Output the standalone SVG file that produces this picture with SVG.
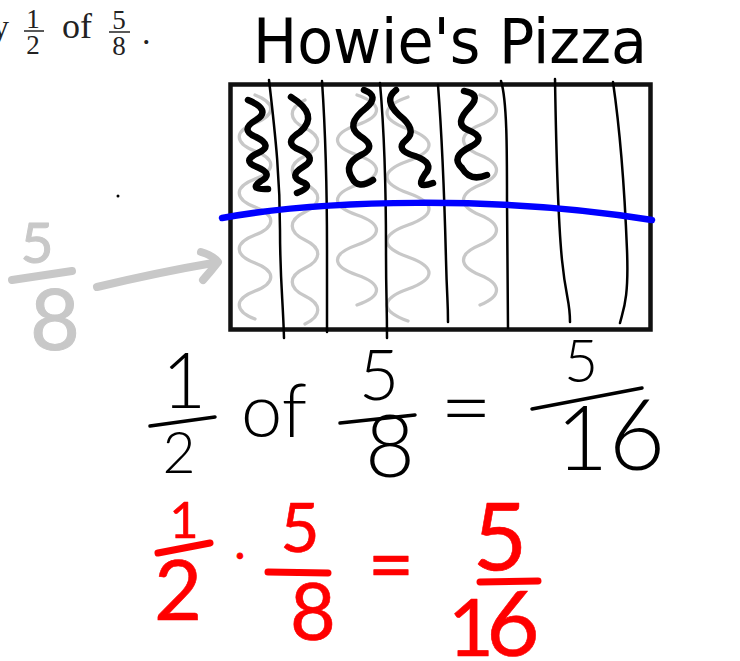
<svg xmlns="http://www.w3.org/2000/svg" width="740" height="661" viewBox="0 0 740 661">
<style>
.serif{font-family:"Liberation Serif","Times New Roman",serif;fill:#222}
.title{font-family:"DejaVu Sans","Liberation Sans",sans-serif;font-size:62px;fill:#000}
.hb{font-family:Lato,"Liberation Sans",sans-serif;font-weight:300;fill:#000;text-anchor:middle}
.hr{font-family:Lato,"Liberation Sans",sans-serif;font-weight:400;fill:#f00;stroke:#f00;stroke-width:0.6;stroke-linejoin:round;text-anchor:middle}
.hg{font-family:Lato,"Liberation Sans",sans-serif;font-weight:400;fill:#c8c8c8;stroke:#c8c8c8;stroke-width:1;stroke-linejoin:round;text-anchor:middle}
.gw{fill:none;stroke:#c8c8c8;stroke-width:3.3;stroke-linecap:round}
.bw{fill:none;stroke:#000;stroke-width:6.5;stroke-linecap:round;stroke-linejoin:round}
.vl{fill:none;stroke:#000;stroke-width:2.5;stroke-linecap:round}
.barb{stroke:#000;stroke-width:3.5;stroke-linecap:round;fill:none}
.barr{stroke:#f00;stroke-width:7;stroke-linecap:round;fill:none}
.barg{stroke:#c8c8c8;stroke-width:8;stroke-linecap:round;stroke-linejoin:round;fill:none}
</style>
<rect width="740" height="661" fill="#fff"/>

<g id="problem-text">
<text class="serif" x="-8" y="38" font-size="34">y</text>
<text class="serif" x="33" y="28" font-size="27" text-anchor="middle">1</text>
<line x1="24" y1="31" x2="44" y2="31" stroke="#222" stroke-width="1.5"/>
<text class="serif" x="33" y="54" font-size="27" text-anchor="middle">2</text>
<text class="serif" x="62" y="38" font-size="36">of</text>
<text class="serif" x="119" y="29" font-size="27" text-anchor="middle">5</text>
<line x1="109" y1="32" x2="130" y2="32" stroke="#222" stroke-width="1.5"/>
<text class="serif" x="119" y="55" font-size="27" text-anchor="middle">8</text>
<text class="serif" x="142" y="44" font-size="34">.</text>
</g>

<g id="title">
<text class="title" x="253" y="63" textLength="394" lengthAdjust="spacingAndGlyphs">Howie's Pizza</text>
</g>

<g id="pizza">
<g id="gray-toppings">
<path class="gw" d="M255,95 C276,103 276,115 255,123 S234,143 255,151 S276,171 255,179 S234,199 255,207 S276,227 255,235 S234,255 255,263 S276,283 255,291 S234,311 255,319"/>
<path class="gw" d="M305,100 C288,108 288,120 305,128 S322,148 305,156 S288,176 305,184 S322,204 305,212 S288,232 305,240 S322,260 305,268 S288,288 305,296 S322,316 305,324"/>
<path class="gw" d="M357,95 C383,104 383,116 357,125 S331,146 357,155 S383,176 357,185 S331,206 357,215 S383,236 357,245 S331,266 357,275 S383,296 357,305"/>
<path class="gw" d="M408,97 C380,107 380,119 408,129 S436,151 408,161 S380,183 408,193 S436,215 408,225 S380,247 408,257 S436,279 408,289 S380,311 408,321"/>
<path class="gw" d="M480,95 C502,104 502,116 480,125 S458,146 480,155 S502,176 480,185 S458,206 480,215 S502,236 480,245 S458,266 480,275 S502,296 480,305"/>
</g>
<rect x="230.5" y="84.5" width="420" height="245" fill="none" stroke="#111" stroke-width="4.5"/>
<g id="slices">
<path class="vl" d="M269,80 C276,140 280,180 280,230 S283,300 284,338"/>
<path class="vl" d="M322,81 C326,140 327,200 327,250 S327,300 327,332"/>
<path class="vl" d="M380,83 C385,140 386,200 386,250 S387,300 387,338"/>
<path class="vl" d="M438,85 C443,150 445,220 446,260 S448,300 448,322"/>
<path class="vl" d="M501,81 C507,100 507,150 507,200 S508,290 508,328"/>
<path class="vl" d="M555,79 C556,140 558,220 562,260 S570,300 570,322"/>
<path class="vl" d="M613,82 C620,130 625,200 627,250 S623,310 620,323"/>
</g>
<g id="black-toppings">
<path class="bw" d="M248,100 Q272,110 256,120 Q239,130 256,137 Q274,146 258,153 Q241,161 257,167 Q274,174 261,181 Q248,190 268,189"/>
<path class="bw" d="M291,97 Q320,115 300,132 Q282,143 300,150 Q318,158 303,167 Q288,176 302,182 Q314,186 297,193"/>
<path class="bw" d="M364,90 Q380,96 366,108 Q344,125 360,136 Q378,147 361,155 Q343,164 352,178 Q358,190 373,180"/>
<path class="bw" d="M396,90 Q383,100 399,115 Q418,130 406,140 Q394,150 415,156 Q435,163 425,174 Q414,190 433,183"/>
<path class="bw" d="M464,91 Q482,94 470,107 Q453,124 468,130 Q488,138 470,147 Q450,157 462,168 Q470,182 487,175"/>
</g>
<path id="half-line" d="M222,218 C320,200 500,195 652,220" fill="none" stroke="#0000ff" stroke-width="6.5" stroke-linecap="round"/>
</g>

<circle id="stray-dot" cx="118" cy="196" r="1.5" fill="#000"/>

<g id="gray-label">
<text class="hg" x="37" y="263" font-size="57">5</text>
<path class="barg" d="M12,280 L72,271"/>
<text class="hg" x="55" y="350" font-size="86">8</text>
<path class="barg" d="M97,287 Q160,272 213,263"/>
<path class="barg" d="M201,252 Q212,255 218,262 Q211,271 203,280"/>
</g>

<g id="black-equation">
<text class="hb" x="184" y="408" font-size="76">1</text>
<path class="barb" d="M150,426 L215,417"/>
<text class="hb" x="179" y="473" font-size="57">2</text>
<text class="hb" x="274" y="437" font-size="74">of</text>
<text class="hb" x="379" y="400" font-size="70">5</text>
<path class="barb" d="M340,423 L415,415"/>
<text class="hb" x="390" y="477" font-size="86">8</text>
<text class="hb" x="466" y="439" font-size="90">=</text>
<text class="hb" x="581" y="382" font-size="59">5</text>
<path class="barb" d="M532,409 L642,388"/>
<text class="hb" y="470"><tspan x="582" font-size="90">1</tspan><tspan x="637" font-size="98">6</tspan></text>
</g>

<g id="red-equation">
<text class="hr" x="184" y="538" font-size="50">1</text>
<path class="barr" d="M158,553 L210,543"/>
<text class="hr" x="178" y="620" font-size="83">2</text>
<text class="hr" x="240" y="568" font-size="40">·</text>
<text class="hr" x="300" y="552" font-size="68">5</text>
<path class="barr" d="M268,572 L328,573"/>
<text class="hr" x="313" y="640" font-size="79">8</text>
<text class="hr" x="391" y="593" font-size="80">=</text>
<text class="hr" x="500" y="570" font-size="94">5</text>
<path class="barr" d="M480,582 L538,581"/>
<text class="hr" y="656"><tspan x="471" font-size="79">1</tspan><tspan x="513" font-size="92">6</tspan></text>
</g>
</svg>
